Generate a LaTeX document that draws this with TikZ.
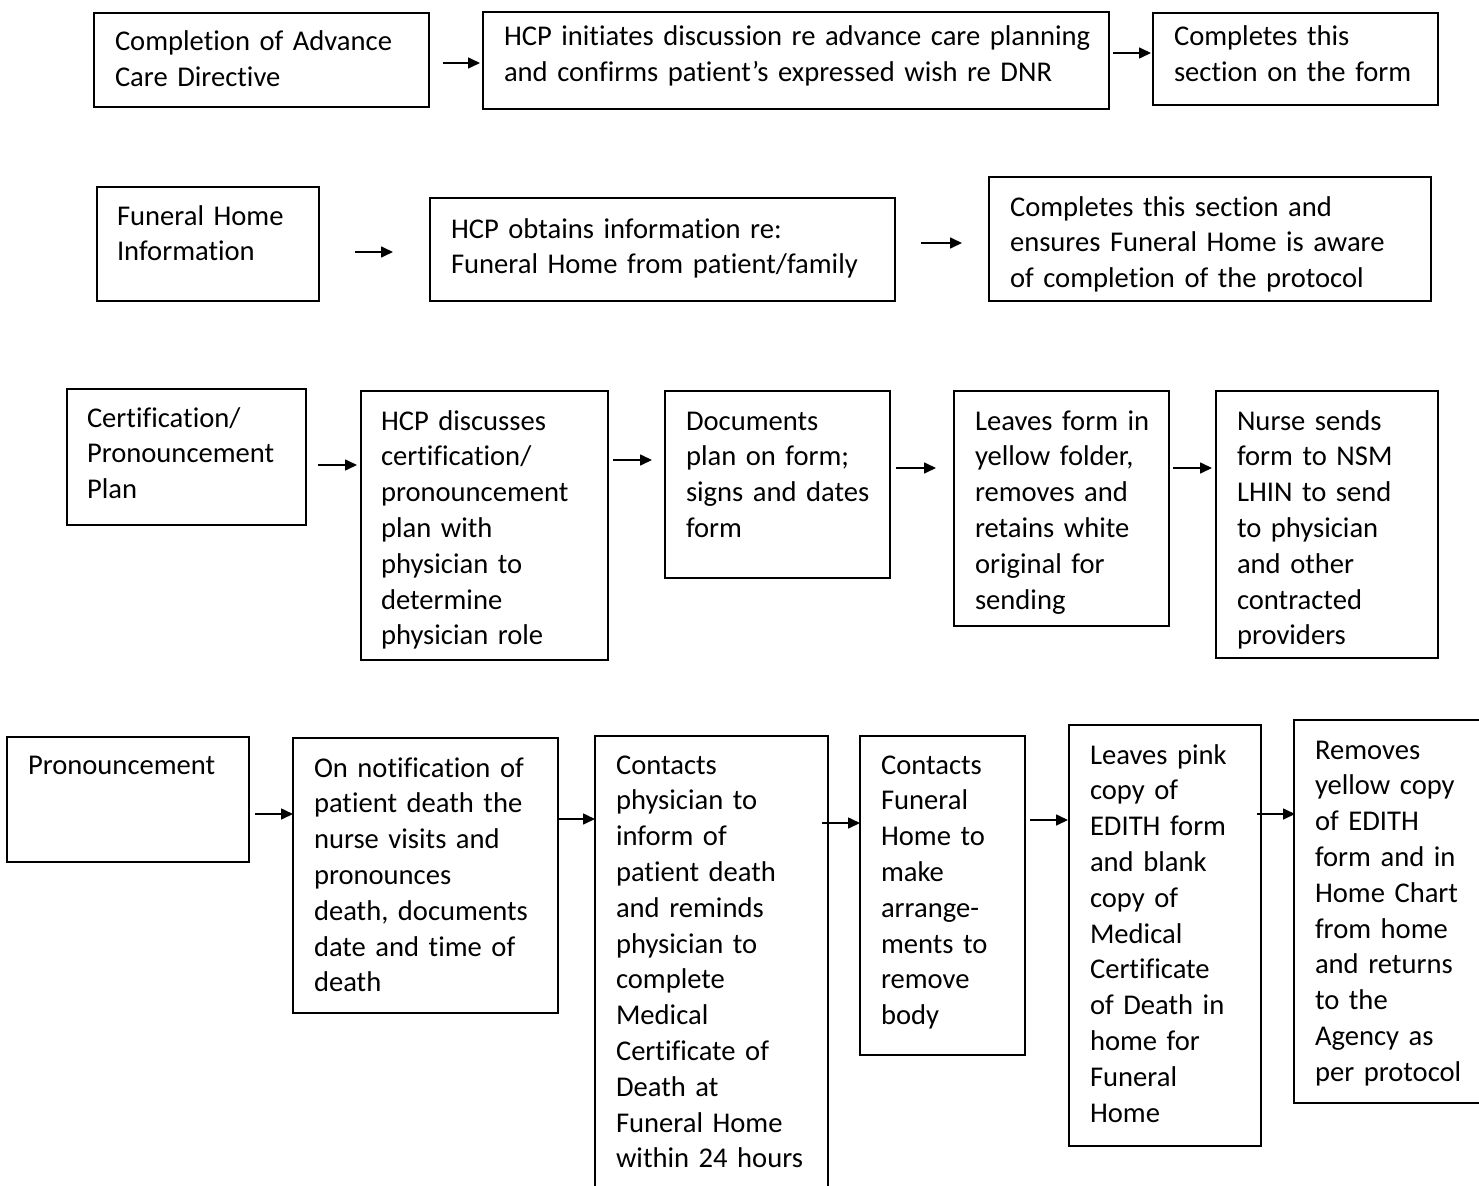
\documentclass[tikz,border=0pt]{standalone}
\usepackage{fontspec}
\setmainfont{Carlito}[Ligatures=NoCommon]
\usetikzlibrary{arrows.meta}
\begin{document}
\begin{tikzpicture}[x=1pt,y=-1pt,
  box/.style={draw=black,line width=1.6pt,rectangle,anchor=north west,inner sep=0pt,outer sep=0pt},
  txt/.style={anchor=base west,inner sep=0pt,outer sep=0pt,align=left,text width=640pt,
    font=\fontsize{28.6pt}{35.8pt}\selectfont},
  flow/.style={line width=1.6pt,-{Triangle[length=12pt,width=11pt]}}]
\useasboundingbox (0,0) rectangle (1479,1185);
\newcommand\bx[5]{\node[box,minimum width=#4-#2,minimum height=#5-#3] (#1) at (#2,#3) {};}
% Row 1
\bx{A}{94}{13}{429}{107}
\bx{B}{483}{12}{1109}{109}
\bx{C}{1153}{13}{1438}{105}
\node[txt] (At) at (115,51) {Completion of Advance\\Care Directive};
\node[txt] (Bt) at (504,46) {HCP initiates discussion re advance care planning\\and confirms patient’s expressed wish re DNR};
\node[txt] (Ct) at (1174,46) {Completes this\\section on the form};
% Row 2
\bx{D}{97}{187}{319}{301}
\bx{E}{430}{198}{895}{301}
\bx{F}{989}{177}{1431}{301}
\node[txt] (Dt) at (117,225) {Funeral Home\\Information};
\node[txt] (Et) at (451,238) {HCP obtains information re:\\Funeral Home from patient/family};
\node[txt] (Ft) at (1010,216) {Completes this section and\\ensures Funeral Home is aware\\of completion of the protocol};
% Row 3
\bx{G}{67}{389}{306}{525}
\bx{H}{361}{391}{608}{660}
\bx{I}{665}{391}{890}{578}
\bx{J}{954}{391}{1169}{626}
\bx{K}{1216}{391}{1438}{658}
\node[txt] (Gt) at (87,427) {Certification/\\Pronouncement\\Plan};
\node[txt] (Ht) at (381,430) {HCP discusses\\certification/\\pronouncement\\plan with\\physician to\\determine\\physician role};
\node[txt] (It) at (686,430) {Documents\\plan on form;\\signs and dates\\form};
\node[txt] (Jt) at (975,430) {Leaves form in\\yellow folder,\\removes and\\retains white\\original for\\sending};
\node[txt] (Kt) at (1237,430) {Nurse sends\\form to NSM\\LHIN to send\\to physician\\and other\\contracted\\providers};
% Row 4
\bx{L}{7}{737}{249}{862}
\bx{M}{293}{738}{558}{1013}
\bx{N}{595}{736}{828}{1200}
\bx{O}{860}{736}{1025}{1055}
\bx{P}{1069}{725}{1261}{1146}
\bx{Q}{1294}{720}{1500}{1103}
\node[txt] (Lt) at (28,774) {Pronouncement};
\node[txt] (Mt) at (314,777) {On notification of\\patient death the\\nurse visits and\\pronounces\\death, documents\\date and time of\\death};
\node[txt] (Nt) at (616,774) {Contacts\\physician to\\inform of\\patient death\\and reminds\\physician to\\complete\\Medical\\Certificate of\\Death at\\Funeral Home\\within 24 hours};
\node[txt] (Ot) at (881,774) {Contacts\\Funeral\\Home to\\make\\arrange-\\ments to\\remove\\body};
\node[txt] (Pt) at (1090,764) {Leaves pink\\copy of\\EDITH form\\and blank\\copy of\\Medical\\Certificate\\of Death in\\home for\\Funeral\\Home};
\node[txt] (Qt) at (1315,759) {Removes\\yellow copy\\of EDITH\\form and in\\Home Chart\\from home\\and returns\\to the\\Agency as\\per protocol};
% Arrow end points
\coordinate (a1s) at (443,63);  \coordinate (a1e) at (480,63);
\coordinate (a2s) at (1113,53); \coordinate (a2e) at (1151,53);
\coordinate (a3s) at (355,252); \coordinate (a3e) at (393,252);
\coordinate (a4s) at (921,243); \coordinate (a4e) at (962,243);
\coordinate (a5s) at (318,465); \coordinate (a5e) at (357,465);
\coordinate (a6s) at (613,460); \coordinate (a6e) at (652,460);
\coordinate (a7s) at (896,468); \coordinate (a7e) at (936,468);
\coordinate (a8s) at (1173,468); \coordinate (a8e) at (1212,468);
\coordinate (a9s) at (255,814); \coordinate (a9e) at (293,814);
\coordinate (a10s) at (558,819); \coordinate (a10e) at (595,819);
\coordinate (a11s) at (822,823); \coordinate (a11e) at (860,823);
\coordinate (a12s) at (1030,820); \coordinate (a12e) at (1068,820);
\coordinate (a13s) at (1257,814); \coordinate (a13e) at (1295,814);
\foreach \i in {1,...,13} {\draw[flow] (a\i s) -- (a\i e);}
\end{tikzpicture}
\end{document}
